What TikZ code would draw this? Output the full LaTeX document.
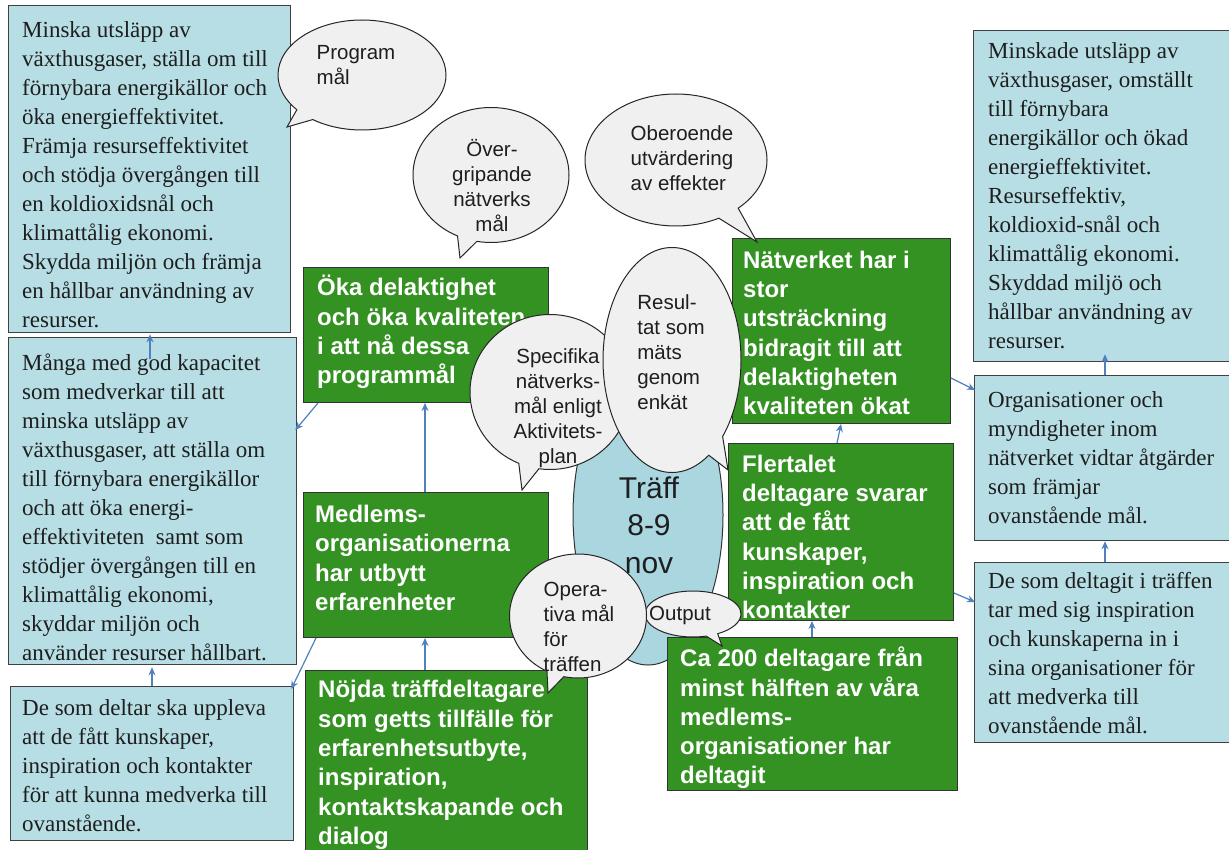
\documentclass[tikz,border=0pt]{standalone}
\usepackage{fontspec}
\setmainfont{Liberation Serif}
\newfontfamily\sansf{Liberation Sans}
\usetikzlibrary{shapes.callouts,shapes.geometric,arrows.meta}
\definecolor{boxblue}{RGB}{183,222,228}
\definecolor{ellblue}{RGB}{170,214,224}
\definecolor{boxgreen}{RGB}{52,146,34}
\definecolor{bubgray}{RGB}{240,240,240}
\definecolor{arrblue}{RGB}{79,129,189}
\definecolor{txtdark}{RGB}{30,30,30}
\begin{document}
\begin{tikzpicture}[x=1pt,y=-1pt,
 bluebox/.style={draw=black!75, line width=1.3pt, fill=boxblue, rectangle, anchor=north west, inner sep=0pt},
 greenbox/.style={draw=black!80, line width=1pt, fill=boxgreen, rectangle, anchor=north west, inner sep=0pt},
 serift/.style={anchor=west, align=left, inner sep=0pt, text=txtdark, font=\fontsize{23}{29}\selectfont},
 greent/.style={anchor=west, align=left, inner sep=0pt, text=white, font=\sansf\bfseries\fontsize{24}{29.3}\selectfont},
 bubble/.style={ellipse callout, draw=black!85, line width=1pt, fill=bubgray, inner sep=0pt},
 bubt/.style={inner sep=0pt, text=txtdark, font=\sansf\fontsize{20.5}{25}\selectfont},
 arr/.style={draw=arrblue, line width=1.2pt, -{Stealth[length=8pt,width=7pt]}},
]
\useasboundingbox[fill=white] (0,0) rectangle (1229,850);

% central ellipse
\node[draw=black!80, line width=1pt, fill=ellblue, ellipse, minimum width=150pt, minimum height=300pt, inner sep=0pt] (traff) at (648,515) {};
\node[inner sep=0pt, align=center, text=txtdark, font=\sansf\fontsize{30}{37.5}\selectfont] (traffT) at (649,525) {Träff\\8-9\\nov};

% left column
\node[bluebox, minimum width=282pt, minimum height=327pt] (b1) at (8,5) {};
\node[serift] (b1t) at ([xshift=14pt, yshift=-6pt]b1.west) {Minska utsläpp av\\växthusgaser, ställa om till\\förnybara energikällor och\\öka energieffektivitet.\\Främja resurseffektivitet\\och stödja övergången till\\en koldioxidsnål och\\klimattålig ekonomi.\\Skydda miljön och främja\\en hållbar användning av\\resurser.};

\node[bluebox, minimum width=288pt, minimum height=327pt] (b2) at (8,337) {};
\node[serift] (b2t) at ([xshift=14pt, yshift=-6pt]b2.west) {Många med god kapacitet\\som medverkar till att\\minska utsläpp av\\växthusgaser, att ställa om\\till förnybara energikällor\\och att öka energi-\\effektiviteten\ \ samt som\\stödjer övergången till en\\klimattålig ekonomi,\\skyddar miljön och\\använder resurser hållbart.};

\node[bluebox, minimum width=283pt, minimum height=154pt] (b3) at (10,686) {};
\node[serift] (b3t) at ([xshift=12pt, yshift=-2pt]b3.west) {De som deltar ska uppleva\\att de fått kunskaper,\\inspiration och kontakter\\för att kunna medverka till\\ovanstående.};

% green middle
\node[greenbox, minimum width=245pt, minimum height=135pt] (g1) at (303,267) {};
\node[greent] (g1t) at ([xshift=14pt, yshift=3pt]g1.west) {Öka delaktighet\\och öka kvaliteten\\i att nå dessa\\programmål};

\node[greenbox, minimum width=245pt, minimum height=145pt] (g2) at (303,492) {};
\node[greent] (g2t) at ([xshift=12pt, yshift=7pt]g2.west) {Medlems-\\organisationerna\\har utbytt\\erfarenheter};

\node[greenbox, minimum width=282pt, minimum height=195pt] (g3) at (305,670) {};
\node[greent] (g3t) at ([xshift=13pt, yshift=-95pt]g3.north west) {Nöjda träffdeltagare\\som getts tillfälle för\\erfarenhetsutbyte,\\inspiration,\\kontaktskapande och\\dialog};

% green right
\node[greenbox, minimum width=218pt, minimum height=185pt] (g4) at (732,238) {};
\node[greent] (g4t) at ([xshift=11pt, yshift=-2pt]g4.west) {Nätverket har i\\stor\\utsträckning\\bidragit till att\\delaktigheten\\kvaliteten ökat};

\node[greenbox, minimum width=225pt, minimum height=177pt] (g5) at (728,443) {};
\node[greent] (g5t) at ([xshift=14pt, yshift=-5pt]g5.west) {Flertalet\\deltagare svarar\\att de fått\\kunskaper,\\inspiration och\\kontakter};

\node[greenbox, minimum width=290pt, minimum height=153pt] (g6) at (667,637) {};
\node[greent] (g6t) at ([xshift=13pt, yshift=-4pt]g6.west) {Ca 200 deltagare från\\minst hälften av våra\\medlems-\\organisationer har\\deltagit};

% right column
\node[bluebox, minimum width=270pt, minimum height=331pt] (r1) at (973,30) {};
\node[serift] (r1t) at ([xshift=15pt]r1.west) {Minskade utsläpp av\\växthusgaser, omställt\\till förnybara\\energikällor och ökad\\energieffektivitet.\\Resurseffektiv,\\koldioxid-snål och\\klimattålig ekonomi.\\Skyddad miljö och\\hållbar användning av\\resurser.};

\node[bluebox, minimum width=270pt, minimum height=165pt] (r2) at (974,375) {};
\node[serift] (r2t) at ([xshift=14pt]r2.west) {Organisationer och\\myndigheter inom\\nätverket vidtar åtgärder\\som främjar\\ovanstående mål.};

\node[bluebox, minimum width=270pt, minimum height=180pt] (r3) at (974,562) {};
\node[serift] (r3t) at ([xshift=14pt]r3.west) {De som deltagit i träffen\\tar med sig inspiration\\och kunskaperna in i\\sina organisationer för\\att medverka till\\ovanstående mål.};

% connectors
\draw[arr] ([xshift=142pt, yshift=-22pt]b2.north west) -- ([xshift=142pt, yshift=-1pt]b1.south west);
\draw[arr] ([xshift=142pt]b3.north west) -- ([xshift=144pt, yshift=-2pt]b2.south west);
\draw[arr] ([xshift=122pt]g2.north west) -- ([xshift=122pt]g1.south west);
\draw[arr] ([xshift=120pt]g3.north west) -- ([xshift=122pt]g2.south west);
\draw[arr] ([xshift=15pt]g1.south west) -- ([xshift=-2pt, yshift=-93pt]b2.north east);
\draw[arr] ([xshift=13pt]g2.south west) -- ([xshift=-3pt, yshift=-3pt]b3.north east);
\draw[arr] ([xshift=109pt]g5.north west) -- ([xshift=109pt]g4.south west);
\draw[arr] ([xshift=145pt]g6.north west) -- ([xshift=84pt]g5.south west);
\draw[arr] ([yshift=-140pt]g4.north east) -- ([xshift=1pt, yshift=-15pt]r2.north west);
\draw[arr] ([yshift=-150pt]g5.north east) -- ([xshift=1pt, yshift=-40pt]r3.north west);
\draw[arr] ([xshift=131pt]r2.north west) -- ([xshift=132pt, yshift=8pt]r1.south west);
\draw[arr] ([xshift=131pt]r3.north west) -- ([xshift=131pt]r2.south west);

% speech bubbles
\node[bubble, minimum width=168pt, minimum height=110pt, callout absolute pointer={(287,127)}] (prog) at (362,75) {};
\node[bubt, align=left] (progT) at (356,65) {Program\\mål};

\node[bubble, minimum width=156pt, minimum height=135pt, callout absolute pointer={(460,258)}] (over) at (491,175) {};
\node[bubt, align=center] (overT) at (492,186) {Över-\\gripande\\nätverks\\mål};

\node[bubble, minimum width=182pt, minimum height=132pt, callout absolute pointer={(757,242)}] (ober) at (676,160) {};
\node[bubt, align=left] (oberT) at (682,158) {Oberoende\\utvärdering\\av effekter};

\node[bubble, minimum width=160pt, minimum height=155pt, callout absolute pointer={(522,490)}] (spec) at (550,392) {};
\node[bubt, align=center] (specT) at (558,408) {Specifika\\nätverks-\\mål enligt\\Aktivitets-\\plan};

\node[bubble, minimum width=138pt, minimum height=225pt, callout absolute pointer={(728,470)}] (resul) at (672,360) {};
\node[bubt, align=left] (resulT) at (671,352) {Resul-\\tat som\\mäts\\genom\\enkät};

\node[bubble, minimum width=96pt, minimum height=46pt, callout absolute pointer={(722,646)}] (outp) at (693,614) {};
\node[bubt] (outpT) at (680,615) {Output};

\node[bubble, minimum width=137pt, minimum height=124pt, callout absolute pointer={(548,693)}] (opera) at (578,616) {};
\node[bubt, align=left] (operaT) at (579,627) {Opera-\\tiva mål\\för\\träffen};
\end{tikzpicture}
\end{document}
